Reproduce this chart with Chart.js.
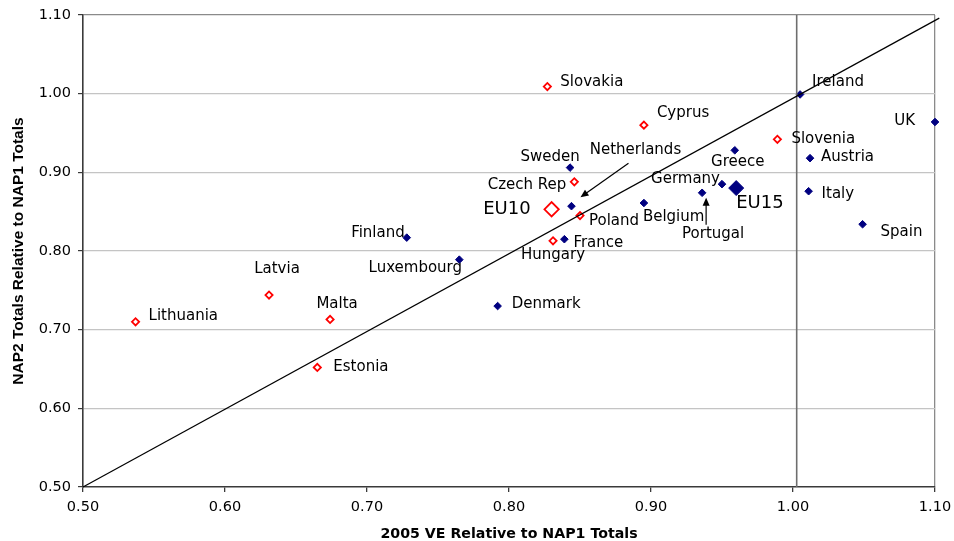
<!DOCTYPE html>
<html>
<head>
<meta charset="utf-8">
<script src="https://cdn.jsdelivr.net/npm/chart.js@4.4.1/dist/chart.umd.min.js"></script>
<style>
  html, body { margin: 0; padding: 0; background: #fff; }
  #wrap { width: 954px; height: 541px; }
</style>
</head>
<body>
<div id="wrap"><canvas id="chart"></canvas></div>
<script>
// axis ticks
const xTicks = [0.50, 0.60, 0.70, 0.80, 0.90, 1.00, 1.10];
const yTicks = [0.50, 0.60, 0.70, 0.80, 0.90, 1.00, 1.10];

// EU15 member states (filled navy diamonds)
const eu15Names = ['Ireland', 'UK', 'Austria', 'Italy', 'Spain', 'Greece', 'Germany', 'Portugal',
    'Belgium', 'Sweden', 'Netherlands', 'France', 'Finland', 'Luxembourg', 'Denmark'];
const eu15X = [1.005, 1.100, 1.012, 1.011, 1.049, 0.959, 0.950, 0.936,
    0.895, 0.843, 0.844, 0.839, 0.728, 0.765, 0.792];
const eu15Y = [0.999, 0.964, 0.918, 0.876, 0.834, 0.928, 0.885, 0.874,
    0.861, 0.906, 0.857, 0.815, 0.817, 0.789, 0.730];

// EU10 member states (hollow red diamonds)
const eu10Names = ['Slovakia', 'Cyprus', 'Slovenia', 'Czech Rep', 'Poland', 'Hungary',
    'Latvia', 'Malta', 'Lithuania', 'Estonia'];
const eu10X = [0.827, 0.895, 0.989, 0.846, 0.850, 0.831, 0.631, 0.674, 0.537, 0.665];
const eu10Y = [1.009, 0.960, 0.942, 0.888, 0.845, 0.813, 0.744, 0.713, 0.710, 0.652];

// aggregates
const aggNames = ['EU15', 'EU10'];
const aggX = [0.960, 0.830];
const aggY = [0.880, 0.853];

// reference lines
const diagX = [0.50, 1.103];
const diagY = [0.50, 1.096];
const vLineX = [1.0026, 1.0026];
const vLineY = [0.50, 1.10];

function pts(xs, ys) {
    return xs.map((x, i) => ({ x: x, y: ys[i] }));
}

// label placement: [dx, dy, align] in pixels from the marker
const labelPlace = {
    'Slovakia': [13, -4, 'left'], 'Cyprus': [13, -12, 'left'], 'Slovenia': [14, 0, 'left'],
    'Ireland': [12, -12, 'left'], 'UK': [-20, -1, 'right'], 'Austria': [11, -1, 'left'],
    'Italy': [13, 3, 'left'], 'Spain': [18, 8, 'left'], 'Greece': [3, 12, 'center'],
    'Germany': [-2, -5, 'right'], 'EU15': [0, 15, 'left'], 'Portugal': [11, 41, 'center'],
    'Belgium': [-1, 14, 'left'], 'Sweden': [-20, -11, 'center'], 'Netherlands': [64, -56, 'center'],
    'Czech Rep': [-8, 3, 'right'], 'EU10': [-21, 0, 'right'], 'Poland': [9, 6, 'left'],
    'France': [9, 4, 'left'], 'Hungary': [0, 14, 'center'], 'Finland': [-2, -5, 'right'],
    'Luxembourg': [-44, 8, 'center'], 'Denmark': [14, -2, 'left'], 'Latvia': [8, -26, 'center'],
    'Malta': [7, -15, 'center'], 'Lithuania': [13, -6, 'left'], 'Estonia': [16, 0, 'left']
};
// arrows: [fromDx, fromDy, toDx, toDy]
const arrowPlace = {
    'Netherlands': [57, -43, 9, -9],
    'Portugal': [4, 32, 4, 5]
};

function drawArrow(ctx, x1, y1, x2, y2) {
    const a = Math.atan2(y2 - y1, x2 - x1);
    ctx.beginPath();
    ctx.moveTo(x1, y1);
    ctx.lineTo(x2 - 6 * Math.cos(a), y2 - 6 * Math.sin(a));
    ctx.stroke();
    ctx.beginPath();
    ctx.moveTo(x2, y2);
    ctx.lineTo(x2 - 8 * Math.cos(a) + 3.5 * Math.sin(a), y2 - 8 * Math.sin(a) - 3.5 * Math.cos(a));
    ctx.lineTo(x2 - 8 * Math.cos(a) - 3.5 * Math.sin(a), y2 - 8 * Math.sin(a) + 3.5 * Math.cos(a));
    ctx.closePath();
    ctx.fill();
}

const labelPlugin = {
    id: 'pointLabels',
    afterDatasetsDraw(chart) {
        const ctx = chart.ctx;
        const xs = chart.scales.x, ys = chart.scales.y;
        const groups = [[eu15Names, eu15X, eu15Y, false], [eu10Names, eu10X, eu10Y, false], [aggNames, aggX, aggY, true]];
        ctx.save();
        ctx.fillStyle = '#000';
        ctx.strokeStyle = '#000';
        ctx.lineWidth = 1.2;
        ctx.textBaseline = 'middle';
        groups.forEach(([names, gx, gy, big]) => {
            ctx.font = big ? '18px "DejaVu Sans"' : '15px "DejaVu Sans"';
            names.forEach((n, i) => {
                const px = xs.getPixelForValue(gx[i]);
                const py = ys.getPixelForValue(gy[i]);
                const p = labelPlace[n];
                ctx.textAlign = p[2];
                ctx.fillText(n, px + p[0], py + p[1]);
                const ar = arrowPlace[n];
                if (ar) drawArrow(ctx, px + ar[0], py + ar[1], px + ar[2], py + ar[3]);
            });
        });
        ctx.restore();
    }
};

const ctx = document.getElementById('chart').getContext('2d');
new Chart(ctx, {
    type: 'scatter',
    data: {
        datasets: [
            {
                data: pts(diagX, diagY), showLine: true, borderColor: '#000', borderWidth: 1.2,
                pointRadius: 0, clip: false
            },
            {
                data: pts(vLineX, vLineY), showLine: true, borderColor: '#6e6e6e', borderWidth: 1.6,
                pointRadius: 0
            },
            {
                data: pts(eu15X, eu15Y), pointStyle: 'rectRot', pointRadius: 3.8,
                backgroundColor: '#000080', borderColor: '#000080', borderWidth: 1, clip: false
            },
            {
                data: pts(eu10X, eu10Y), pointStyle: 'rectRot', pointRadius: 3.6,
                backgroundColor: '#fff', borderColor: '#ff0000', borderWidth: 1.8
            },
            {
                data: [{ x: aggX[0], y: aggY[0] }], pointStyle: 'rectRot', pointRadius: 7.5,
                backgroundColor: '#000080', borderColor: '#000080', borderWidth: 1
            },
            {
                data: [{ x: aggX[1], y: aggY[1] }], pointStyle: 'rectRot', pointRadius: 7.2,
                backgroundColor: '#fff', borderColor: '#ff0000', borderWidth: 1.8
            }
        ]
    },
    options: {
        responsive: true,
        maintainAspectRatio: false,
        animation: false,
        events: [],
        layout: { padding: { top: 15, right: 19, left: 0, bottom: 0 } },
        plugins: { legend: { display: false }, tooltip: { enabled: false } },
        scales: {
            x: {
                type: 'linear', min: 0.5, max: 1.1,
                afterBuildTicks: s => { s.ticks = xTicks.map(v => ({ value: v })); },
                afterFit: s => { s.height = 54; s.paddingLeft = 0; s.paddingRight = 0; },
                border: { color: '#3a3a3a', width: 1.6 },
                grid: {
                    color: c => (Math.abs(c.tick.value - 1.1) < 1e-6 ? '#8a8a8a' : 'rgba(0,0,0,0)'),
                    tickColor: '#3a3a3a', tickLength: 5, lineWidth: 1.3
                },
                ticks: {
                    padding: 7, color: '#000', font: { family: 'DejaVu Sans', size: 14.5 },
                    callback: v => v.toFixed(2)
                },
                title: {
                    display: true, text: '2005 VE Relative to NAP1 Totals', color: '#000',
                    font: { family: 'DejaVu Sans', size: 14.2, weight: 'bold', lineHeight: 1 },
                    padding: { top: 0, bottom: 0 }
                }
            },
            y: {
                type: 'linear', min: 0.5, max: 1.1,
                afterBuildTicks: s => { s.ticks = yTicks.map(v => ({ value: v })); },
                afterFit: s => { s.width = 83; s.paddingTop = 0; s.paddingBottom = 0; },
                border: { color: '#3a3a3a', width: 1.6 },
                grid: {
                    color: c => {
                        const v = c.tick.value;
                        if (Math.abs(v - 1.1) < 1e-6) return '#8a8a8a';
                        if (Math.abs(v - 0.5) < 1e-6) return 'rgba(0,0,0,0)';
                        return '#c4c4c4';
                    },
                    tickColor: '#3a3a3a', tickLength: 5, lineWidth: 1.2
                },
                ticks: {
                    padding: 7, color: '#000', font: { family: 'DejaVu Sans', size: 14.5 },
                    callback: v => v.toFixed(2)
                },
                title: {
                    display: true, text: 'NAP2 Totals Relative to NAP1 Totals', color: '#000',
                    font: { family: 'Liberation Sans', size: 15.5, weight: 'bold', lineHeight: 1.2 },
                    padding: { top: 9, bottom: 0 }
                }
            }
        }
    },
    plugins: [labelPlugin]
});
</script>
</body>
</html>
